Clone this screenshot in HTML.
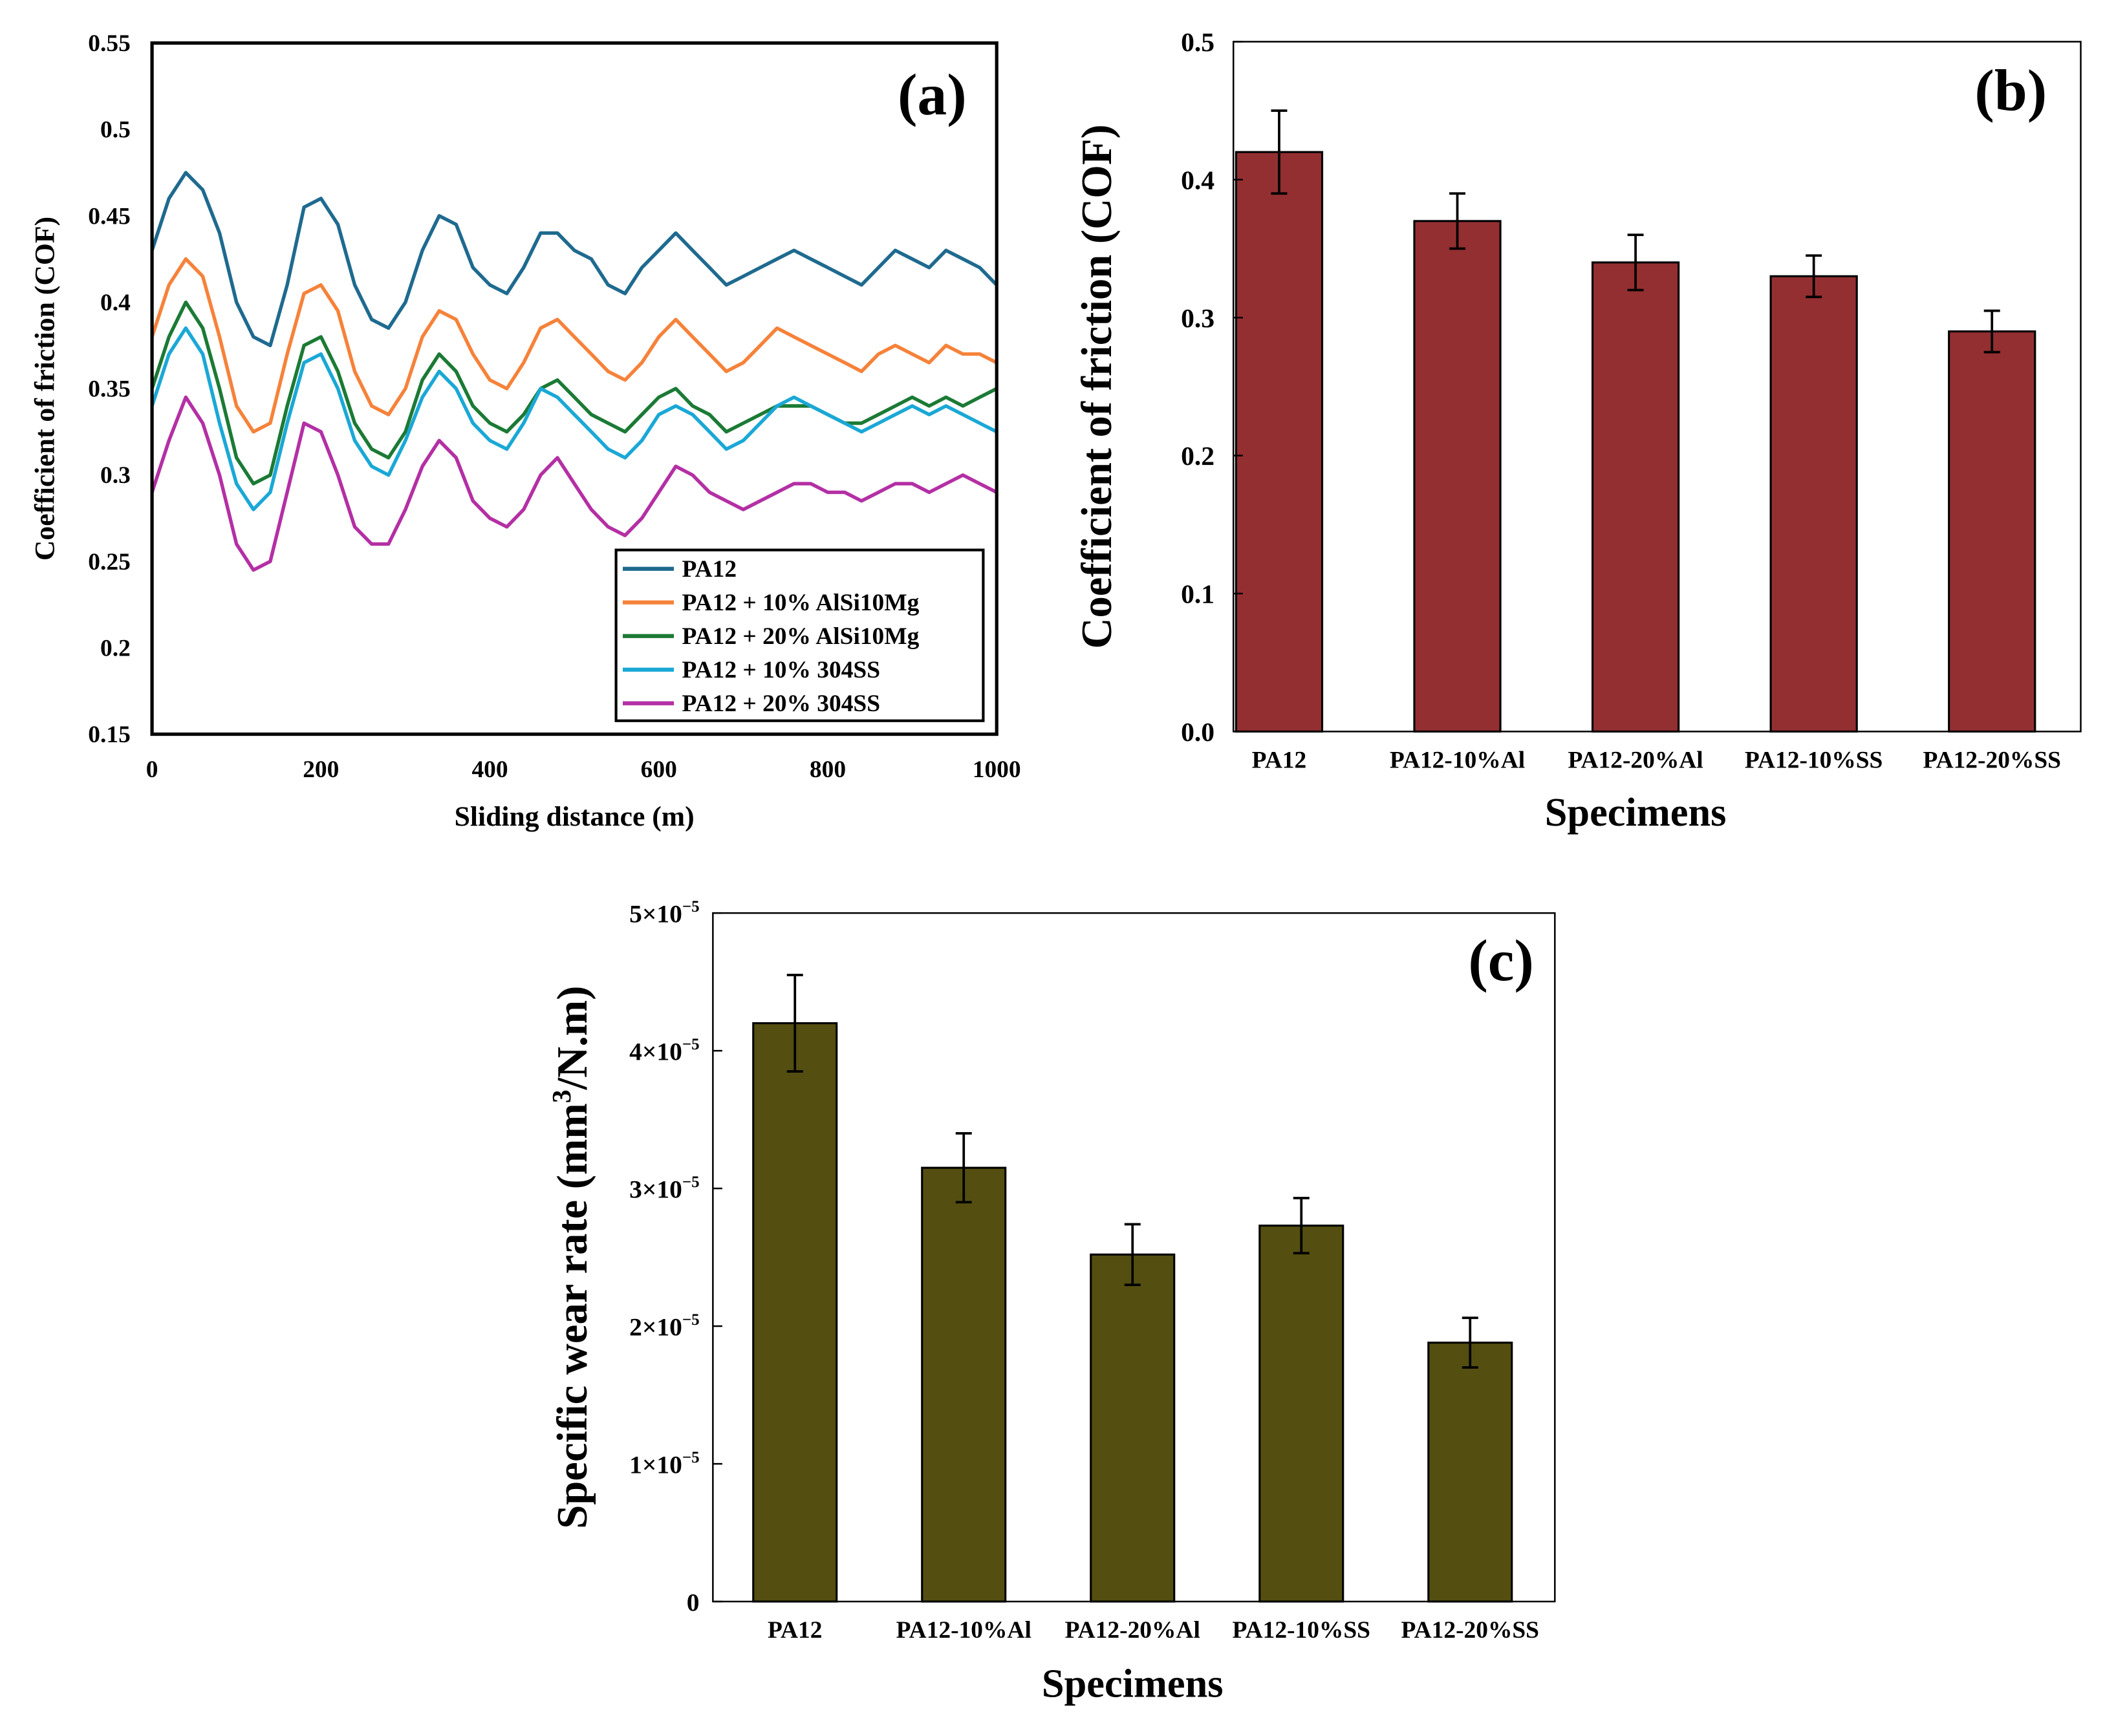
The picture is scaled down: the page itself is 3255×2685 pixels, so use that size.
<!DOCTYPE html>
<html><head><meta charset="utf-8"><style>
html,body{margin:0;padding:0;background:#fff}
svg{display:block}
text{font-family:"Liberation Serif",serif;font-weight:bold;fill:#000}
</style></head><body>
<svg id="fig" xmlns="http://www.w3.org/2000/svg" width="3255" height="2685" viewBox="0 0 1565 1291">
<rect width="1565" height="1291" fill="#fff"/>
</svg>
<script>
// ---------- Panel (a) data ----------
const aDist = [0,20,40,60,80,100,120,140,160,180,200,220,240,260,280,300,320,340,360,380,400,420,440,460,480,500,520,540,560,580,600,620,640,660,680,700,720,740,760,780,800,820,840,860,880,900,920,940,960,980,1000];
const aPA12 = [0.43,0.46,0.475,0.465,0.44,0.40,0.38,0.375,0.41,0.455,0.46,0.445,0.41,0.39,0.385,0.40,0.43,0.45,0.445,0.42,0.41,0.405,0.42,0.44,0.44,0.43,0.425,0.41,0.405,0.42,0.43,0.44,0.43,0.42,0.41,0.415,0.42,0.425,0.43,0.425,0.42,0.415,0.41,0.42,0.43,0.425,0.42,0.43,0.425,0.42,0.41];
const aAl10 = [0.38,0.41,0.425,0.415,0.38,0.34,0.325,0.33,0.37,0.405,0.41,0.395,0.36,0.34,0.335,0.35,0.38,0.395,0.39,0.37,0.355,0.35,0.365,0.385,0.39,0.38,0.37,0.36,0.355,0.365,0.38,0.39,0.38,0.37,0.36,0.365,0.375,0.385,0.38,0.375,0.37,0.365,0.36,0.37,0.375,0.37,0.365,0.375,0.37,0.37,0.365];
const aAl20 = [0.35,0.38,0.40,0.385,0.35,0.31,0.295,0.30,0.34,0.375,0.38,0.36,0.33,0.315,0.31,0.325,0.355,0.37,0.36,0.34,0.33,0.325,0.335,0.35,0.355,0.345,0.335,0.33,0.325,0.335,0.345,0.35,0.34,0.335,0.325,0.33,0.335,0.34,0.34,0.34,0.335,0.33,0.33,0.335,0.34,0.345,0.34,0.345,0.34,0.345,0.35];
const aSS10 = [0.34,0.37,0.385,0.37,0.33,0.295,0.28,0.29,0.33,0.365,0.37,0.35,0.32,0.305,0.30,0.32,0.345,0.36,0.35,0.33,0.32,0.315,0.33,0.35,0.345,0.335,0.325,0.315,0.31,0.32,0.335,0.34,0.335,0.325,0.315,0.32,0.33,0.34,0.345,0.34,0.335,0.33,0.325,0.33,0.335,0.34,0.335,0.34,0.335,0.33,0.325];
const aSS20 = [0.29,0.32,0.345,0.33,0.30,0.26,0.245,0.25,0.29,0.33,0.325,0.30,0.27,0.26,0.26,0.28,0.305,0.32,0.31,0.285,0.275,0.27,0.28,0.30,0.31,0.295,0.28,0.27,0.265,0.275,0.29,0.305,0.30,0.29,0.285,0.28,0.285,0.29,0.295,0.295,0.29,0.29,0.285,0.29,0.295,0.295,0.29,0.295,0.30,0.295,0.29];
const aSeriesNames = ["PA12","PA12 + 10% AlSi10Mg","PA12 + 20% AlSi10Mg","PA12 + 10% 304SS","PA12 + 20% 304SS"];
const aXTicks = [0,200,400,600,800,1000];
const aYTicks = [0.15,0.2,0.25,0.3,0.35,0.4,0.45,0.5,0.55];
const aYTickLabels = ["0.15","0.2","0.25","0.3","0.35","0.4","0.45","0.5","0.55"];
// ---------- Panel (b) data ----------
const bCats = ["PA12","PA12-10%Al","PA12-20%Al","PA12-10%SS","PA12-20%SS"];
const bVals = [0.42,0.37,0.34,0.33,0.29];
const bErrs = [0.03,0.02,0.02,0.015,0.015];
const bYTicks = [0,0.1,0.2,0.3,0.4,0.5];
const bYTickLabels = ["0.0","0.1","0.2","0.3","0.4","0.5"];
// ---------- Panel (c) data (x1e-5) ----------
const cCats = ["PA12","PA12-10%Al","PA12-20%Al","PA12-10%SS","PA12-20%SS"];
const cVals = [4.2,3.15,2.52,2.73,1.88];
const cErrs = [0.35,0.25,0.22,0.2,0.18];
const cYTicks = [0,1,2,3,4,5];

const NS="http://www.w3.org/2000/svg";
const svg=document.getElementById('fig');
function mk(tag,attrs,parent,txt){const e=document.createElementNS(NS,tag);for(const k in attrs)e.setAttribute(k,attrs[k]);if(txt!==undefined)e.textContent=txt;(parent||svg).appendChild(e);return e;}

// ===== Panel (a) =====
const A={x0:113,x1:741,y0:546,y1:32};
const ax=v=>A.x0+(v-0)/(1000-0)*(A.x1-A.x0);
const ay=v=>A.y0-(v-0.15)/(0.55-0.15)*(A.y0-A.y1);
const gA=mk('g',{},svg);


const colorsA=["#1f6a8f","#f6823a","#1b7a35","#1aa8d6","#b42fa4"];
const seriesA=[aPA12,aAl10,aAl20,aSS10,aSS20];
const slugA=["pa12","pa12-10-alsi10mg","pa12-20-alsi10mg","pa12-10-304ss","pa12-20-304ss"];
seriesA.forEach((s,i)=>{
  const d=s.map((v,j)=>(j?'L':'M')+ax(aDist[j]).toFixed(1)+','+ay(v).toFixed(1)).join(' ');
  const p=mk('path',{d:d,fill:'none',stroke:colorsA[i],'stroke-width':2.6,'stroke-linejoin':'round'},gA);
  
  
});
const frA=mk('rect',{x:A.x0,y:A.y1,width:A.x1-A.x0,height:A.y0-A.y1,fill:'none',stroke:'#000','stroke-width':2.5},gA);


aXTicks.forEach(t=>{
  const l=mk('text',{x:ax(t),y:578,'font-size':18,'text-anchor':'middle'},gA,String(t));
  
  
});
aYTicks.forEach((t,i)=>{
  const l=mk('text',{x:97,y:ay(t)+6,'font-size':18,'text-anchor':'end'},gA,aYTickLabels[i]);
  
  
});
const xtA=mk('text',{x:427,y:614,'font-size':21,'text-anchor':'middle'},gA,'Sliding distance (m)');


const ytA=mk('text',{x:40,y:289,'font-size':21,'text-anchor':'middle',transform:'rotate(-90 40 289)'},gA,'Coefficient of friction (COF)');


const labA=mk('text',{x:693,y:85,'font-size':44,'text-anchor':'middle'},gA,'(a)');


const leg=mk('g',{},gA);


mk('rect',{x:458,y:409,width:273,height:127,fill:'#fff',stroke:'#000','stroke-width':2},leg);
aSeriesNames.forEach((n,i)=>{
  const y=423+i*25;
  const e=mk('g',{},leg);
  
  
  mk('line',{x1:463,x2:501,y1:y,y2:y,stroke:colorsA[i],'stroke-width':3},e);
  mk('text',{x:507,y:y+6,'font-size':18},e,n);
});

// ===== Bar panel helper =====
function barPanel(cfg){
  const g=mk('g',{},svg);
  
  
  const P=cfg.P;
  const yv=v=>P.y0-(v-cfg.ymin)/(cfg.ymax-cfg.ymin)*(P.y0-P.y1);
  const xc=i=>P.x0+cfg.off+cfg.step*i;
  cfg.vals.forEach((v,i)=>{
    const b=mk('rect',{x:xc(i)-cfg.bw/2,y:yv(v),width:cfg.bw,height:yv(cfg.ymin)-yv(v),fill:cfg.color,stroke:'#000','stroke-width':1.5},g);
    
    
    const e=cfg.errs[i];
    const eb=mk('path',{d:`M${xc(i)},${yv(v-e)}V${yv(v+e)}M${xc(i)-6},${yv(v+e)}H${xc(i)+6}M${xc(i)-6},${yv(v-e)}H${xc(i)+6}`,stroke:'#000','stroke-width':1.8,fill:'none'},g);
    
    
    const l=mk('text',{x:xc(i),y:P.y0+27,'font-size':cfg.catFont,'text-anchor':'middle'},g,cfg.cats[i]);
    
    
  });
  const fr=mk('rect',{x:P.x0,y:P.y1,width:P.x1-P.x0,height:P.y0-P.y1,fill:'none',stroke:'#000','stroke-width':1.2},g);
  
  
  cfg.yticks.forEach((t,i)=>{
    mk('line',{x1:P.x0,x2:P.x0+7,y1:yv(t),y2:yv(t),stroke:'#000','stroke-width':1.2},g);
    const l=cfg.ylab(t,i,yv(t),g);
    
    
  });
  const xt=mk('text',{x:cfg.xtX,y:cfg.xtY,'font-size':30,'text-anchor':'middle'},g,'Specimens');
  
  
  const yt=mk('text',{x:cfg.ytX,y:(P.y0+P.y1)/2,'font-size':32,'text-anchor':'middle',transform:`rotate(-90 ${cfg.ytX} ${(P.y0+P.y1)/2})`},g);
  yt.innerHTML=cfg.ytitle;
  
  
  const lab=mk('text',{x:cfg.lab[0],y:cfg.lab[1],'font-size':44,'text-anchor':'middle'},g,cfg.lab[2]);
  
  
}
barPanel({name:'panel-b-chart',P:{x0:917,x1:1547,y0:544,y1:31},off:34,step:132.5,ymin:0,ymax:0.5,cats:bCats,vals:bVals,errs:bErrs,bw:64,color:'#932f31',yticks:bYTicks,catFont:18,
  ylab:(t,i,y,g)=>mk('text',{x:903,y:y+7,'font-size':20,'text-anchor':'end'},g,bYTickLabels[i]),
  xtX:1216,xtY:614,ytX:826,ytitle:'Coefficient of friction (COF)',lab:[1495,82,'(b)']});
barPanel({name:'panel-c-chart',P:{x0:530,x1:1156,y0:1191,y1:679},off:61,step:125.5,ymin:0,ymax:5,cats:cCats,vals:cVals,errs:cErrs,bw:62,color:'#544f10',yticks:cYTicks,catFont:18,
  ylab:(t,i,y,g)=>{if(t===0)return mk('text',{x:520,y:y+7,'font-size':19,'text-anchor':'end'},g,'0');const e=mk('text',{x:520,y:y+7,'font-size':19,'text-anchor':'end'},g);e.innerHTML=t+'×10<tspan dy="-8" font-size="12">−5</tspan>';return e;},
  xtX:842,xtY:1262,ytX:436,ytitle:'Specific wear rate (mm<tspan dy="-12" font-size="20">3</tspan><tspan dy="12">/N.m)</tspan>',lab:[1116,729,'(c)']});
</script>
</body></html>
